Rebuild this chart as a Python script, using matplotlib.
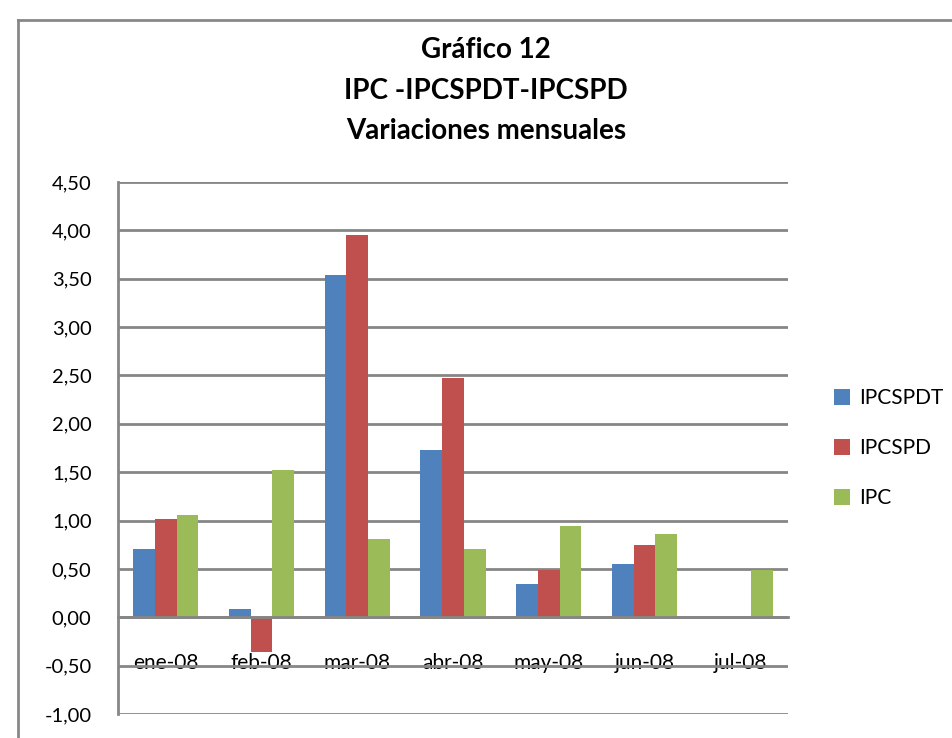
import numpy as np
import matplotlib.pyplot as plt
from matplotlib.lines import Line2D

meses = ['ene-08', 'feb-08', 'mar-08', 'abr-08', 'may-08', 'jun-08', 'jul-08']
ipcspdt = [0.71, 0.09, 3.54, 1.73, 0.34, 0.55, -0.01]
ipcspd = [1.02, -0.36, 3.95, 2.47, 0.49, 0.75, -0.01]
ipc = [1.06, 1.52, 0.81, 0.71, 0.94, 0.86, 0.49]
series = ['IPCSPDT', 'IPCSPD', 'IPC']
colores = ['#4F81BD', '#C0504D', '#9BBB59']

plt.rcParams['font.family'] = ['Lato', 'DejaVu Sans']

fig = plt.figure(figsize=(9.53, 7.38), dpi=100)
ax = fig.add_axes([118/953, 1-714/738, 670/953, 532/738])

# eje x en el cero (antes de poner los ticks)
ax.spines['bottom'].set_position(('data', 0))

x = np.arange(len(meses))
width = 0.227
for i, (vals, name, col) in enumerate(zip([ipcspdt, ipcspd, ipc], series, colores)):
    ax.bar(x + (i-1)*width, vals, width, label=name, color=col, zorder=3)

ax.set_xlim(-0.5, len(meses)-0.5)
ax.set_ylim(-1.0, 4.5)
yt = np.arange(-1.0, 4.51, 0.5)
ax.set_yticks(yt)
ax.set_yticklabels([('%.2f' % v).replace('.', ',') for v in yt], fontsize=14.5)
ax.set_xticks(x)
ax.set_xticklabels(meses, fontsize=15)
ax.tick_params(axis='x', length=0, pad=26)
ax.tick_params(axis='y', length=0, pad=19)
ax.grid(axis='y', color='#868686', linewidth=2, zorder=0)
for s in ['top', 'right']:
    ax.spines[s].set_visible(False)
ax.spines['bottom'].set_zorder(4)
for s in ['left', 'bottom']:
    ax.spines[s].set_color('#868686')
    ax.spines[s].set_linewidth(2)

ax.legend(loc='center left', bbox_to_anchor=(1.04, 0.5), frameon=False,
          fontsize=15, handlelength=0.8, handleheight=0.8, labelspacing=1.45,
          handletextpad=0.45)

fig.text(0.51, 1-50/738, 'Gráfico 12', ha='center', va='center', fontsize=20, fontweight='bold')
fig.text(0.51, 1-91/738, 'IPC -IPCSPDT-IPCSPD', ha='center', va='center', fontsize=20, fontweight='bold')
fig.text(0.51, 1-131/738, 'Variaciones mensuales', ha='center', va='center', fontsize=20, fontweight='bold')

# borde del grafico
fig.add_artist(Line2D([18/953, 18/953], [0, 1-20/738], color='#888888', linewidth=2))
fig.add_artist(Line2D([18/953, 1], [1-20/738, 1-20/738], color='#888888', linewidth=2))

fig.savefig('out.png', dpi=100)
